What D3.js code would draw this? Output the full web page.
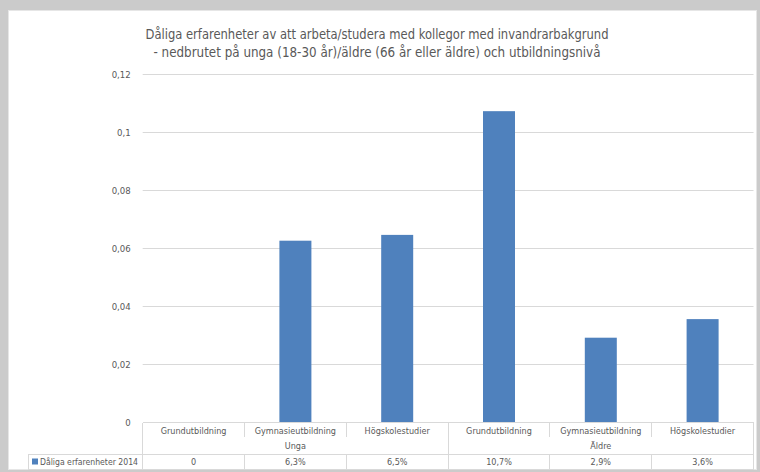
<!DOCTYPE html>
<html>
<head>
<meta charset="utf-8">
<script src="https://cdn.jsdelivr.net/npm/d3@7"></script>
<style>
  html, body { margin: 0; padding: 0; background: #cbcbcb; }
  svg { display: block; }
  text { font-family: "Liberation Sans Narrow", "DejaVu Sans Condensed", sans-serif; fill: #595959; }
</style>
</head>
<body>
<div id="chart"></div>
<script>
const titleLines = [
  "Dåliga erfarenheter av att arbeta/studera med kollegor med invandrarbakgrund",
  "- nedbrutet på unga (18-30 år)/äldre (66 år eller äldre) och utbildningsnivå"
];
const groups     = ["Unga", "Äldre"];
const categories = ["Grundutbildning", "Gymnasieutbildning", "Högskolestudier"];
const values     = [0, 0.0626, 0.0646, 0.1072, 0.0292, 0.0356];
const seriesName = "Dåliga erfarenheter 2014";
const yTicks     = [0, 0.02, 0.04, 0.06, 0.08, 0.1, 0.12];

const W = 760, H = 472,
      plot = {left: 142.7, right: 753.5, top: 74, bottom: 422.5},
      tableRows = {cat: 437, line: 454.5, bottom: 469},
      legendLeft = 28,
      titleWidths = [463, 447];

// flatten group x category into one row of columns
const cols = [];
groups.forEach((g, gi) => categories.forEach((c, ci) => {
  cols.push({group: g, gi, cat: c, ci, value: values[gi * categories.length + ci]});
}));

const svg = d3.select("#chart").append("svg")
  .attr("width", W)
  .attr("height", H);

// white chart panel
svg.append("rect")
  .attr("x", 8.5).attr("y", 10.5)
  .attr("width", 748).attr("height", 459)
  .attr("fill", "#fff")
  .attr("stroke", "#e6e6e6");

const x = d3.scaleBand()
  .domain(d3.range(cols.length))
  .range([plot.left, plot.right]);

const y = d3.scaleLinear()
  .domain([0, 0.12])
  .range([plot.bottom, plot.top]);

const fmtTick = d => d === 0 ? "0" : String(+d.toFixed(2)).replace(".", ",");
const fmtCell = d => d === 0 ? "0" : (d * 100).toFixed(1).replace(".", ",") + "%";

// gridlines
svg.append("g")
  .selectAll("line")
  .data(yTicks.filter(d => d > 0))
  .join("line")
  .attr("x1", plot.left).attr("x2", plot.right)
  .attr("y1", d => Math.round(y(d)) + 0.5)
  .attr("y2", d => Math.round(y(d)) + 0.5)
  .attr("stroke", "#d9d9d9");

// y axis labels
svg.append("g")
  .attr("transform", `translate(${plot.left - 9},0)`)
  .call(d3.axisLeft(y).tickValues(yTicks).tickFormat(fmtTick).tickSize(0))
  .call(g => g.select(".domain").remove())
  .call(g => g.selectAll("text")
    .attr("fill", "#595959")
    .style("font-size", "9.5px")
    .style("font-family", '"Liberation Sans Narrow", "DejaVu Sans Condensed", sans-serif'));

// bars
const barW = 32;
svg.append("g")
  .selectAll("rect")
  .data(cols)
  .join("rect")
  .attr("x", (d, i) => x(i) + x.bandwidth() / 2 - barW / 2)
  .attr("y", d => y(d.value))
  .attr("width", barW)
  .attr("height", d => y(0) - y(d.value))
  .attr("fill", "#4f81bd");

// data table
const tbl = svg.append("g")
  .attr("stroke", "#d9d9d9")
  .attr("shape-rendering", "crispEdges");

tbl.append("line")
  .attr("x1", plot.left).attr("x2", plot.right)
  .attr("y1", plot.bottom).attr("y2", plot.bottom);
tbl.append("line")
  .attr("x1", legendLeft).attr("x2", plot.right)
  .attr("y1", tableRows.line).attr("y2", tableRows.line);
tbl.append("line")
  .attr("x1", legendLeft).attr("x2", plot.right)
  .attr("y1", tableRows.bottom).attr("y2", tableRows.bottom);
tbl.append("line")
  .attr("x1", legendLeft).attr("x2", legendLeft)
  .attr("y1", tableRows.line).attr("y2", tableRows.bottom);

// column borders: full height at group edges, short within a group
tbl.selectAll(".vline")
  .data(d3.range(cols.length + 1))
  .join("line")
  .attr("class", "vline")
  .attr("x1", i => i < cols.length ? x(i) : plot.right)
  .attr("x2", i => i < cols.length ? x(i) : plot.right)
  .attr("y1", plot.bottom)
  .attr("y2", i => i % categories.length === 0 ? tableRows.bottom : tableRows.cat);
// short borders also need the value row part
tbl.selectAll(".vline2")
  .data(d3.range(1, cols.length).filter(i => i % categories.length !== 0))
  .join("line")
  .attr("x1", i => x(i)).attr("x2", i => x(i))
  .attr("y1", tableRows.line).attr("y2", tableRows.bottom);

const txt = svg.append("g")
  .attr("text-anchor", "middle")
  .style("font-size", "9px");

txt.selectAll(".cat")
  .data(cols)
  .join("text")
  .attr("x", (d, i) => x(i) + x.bandwidth() / 2)
  .attr("y", 434)
  .text(d => d.cat);

txt.selectAll(".grp")
  .data(groups)
  .join("text")
  .attr("x", (d, gi) => x(gi * categories.length) + x.bandwidth() * categories.length / 2)
  .attr("y", 449)
  .text(d => d);

txt.selectAll(".val")
  .data(cols)
  .join("text")
  .attr("x", (d, i) => x(i) + x.bandwidth() / 2)
  .attr("y", 465)
  .text(d => fmtCell(d.value));

// legend key in the table
svg.append("rect")
  .attr("x", 32).attr("y", 458.5)
  .attr("width", 6).attr("height", 6)
  .attr("fill", "#4f81bd");
svg.append("text")
  .attr("x", 40).attr("y", 465)
  .style("font-size", "9px")
  .attr("textLength", 98)
  .attr("lengthAdjust", "spacingAndGlyphs")
  .text(seriesName);

// title
svg.append("g")
  .selectAll("text")
  .data(titleLines)
  .join("text")
  .attr("x", 377)
  .attr("y", (d, i) => 39 + i * 18)
  .attr("text-anchor", "middle")
  .attr("textLength", (d, i) => titleWidths[i])
  .attr("lengthAdjust", "spacingAndGlyphs")
  .style("font-size", "14.5px")
  .text(d => d);
</script>
</body>
</html>
